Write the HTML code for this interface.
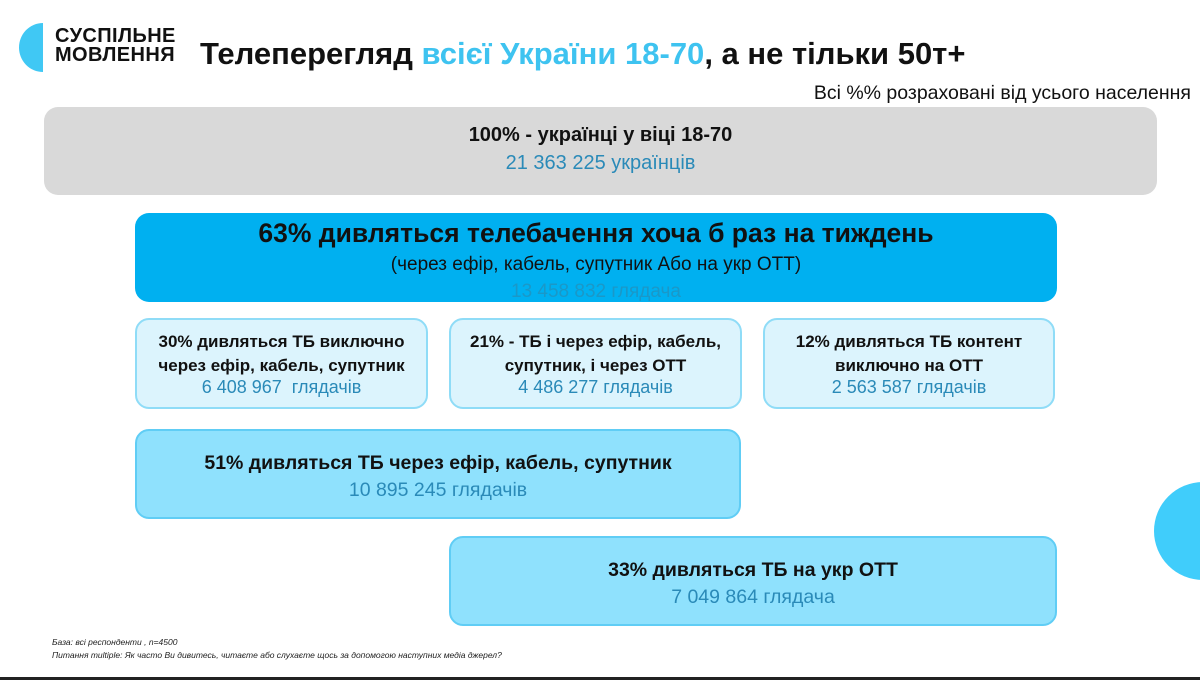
<!DOCTYPE html>
<html><head><meta charset="utf-8"><style>
body{margin:0;width:1200px;height:680px;background:#fff;position:relative;overflow:hidden;font-family:"Liberation Sans","DejaVu Sans",sans-serif;}
.a{position:absolute}
.box{position:absolute;box-sizing:border-box;border-radius:14px;text-align:center}
.l{position:absolute;left:0;right:0;text-align:center;white-space:nowrap}
.b{font-weight:bold;color:#111}
.n{color:#2a8ab8}
</style></head><body>
<div class="a" style="left:19px;top:23px;width:48px;height:49px;border-radius:50%;background:#40c8f4;clip-path:inset(0 24px 0 0)"></div>
<div class="a" style="left:55px;top:27px;font-weight:bold;font-size:20px;line-height:19px;color:#111;letter-spacing:0.4px">СУСПІЛЬНЕ<br>МОВЛЕННЯ</div>
<div class="a" style="left:200px;top:36px;font-weight:bold;font-size:31px;color:#111;white-space:nowrap">Телеперегляд <span style="color:#3ec3f0">всієї України 18-70</span>, а не тільки 50т+</div>
<div class="a" style="right:9px;top:82px;font-size:19.5px;color:#111;white-space:nowrap">Всі %% розраховані від усього населення</div>

<div class="box" style="left:44px;top:107px;width:1113px;height:88px;background:#d9d9d9">
<div class="l b" style="top:17px;font-size:20px">100% - українці у віці 18-70</div>
<div class="l n" style="top:45px;font-size:20px">21 363 225 українців</div></div>

<div class="box" style="left:135px;top:213px;width:922px;height:89px;background:#00b0f0">
<div class="l b" style="top:5px;font-size:26.5px">63% дивляться телебачення хоча б раз на тиждень</div>
<div class="l" style="top:41px;font-size:19px;color:#111">(через ефір, кабель, супутник Або на укр ОТТ)</div>
<div class="l" style="top:68px;font-size:19px;color:#1a98c8">13 458 832 глядача</div></div>

<div class="box" style="left:135px;top:318px;width:293px;height:91px;background:#dcf4fd;border:2px solid #8fdcf7">
<div class="l b" style="top:10px;font-size:17px;line-height:24px">30% дивляться ТБ виключно<br>через ефір, кабель, супутник</div>
<div class="l n" style="top:57px;font-size:18px">6 408 967&nbsp; глядачів</div></div>
<div class="box" style="left:449px;top:318px;width:293px;height:91px;background:#dcf4fd;border:2px solid #8fdcf7">
<div class="l b" style="top:10px;font-size:17px;line-height:24px">21% - ТБ і через ефір, кабель,<br>супутник, і через ОТТ</div>
<div class="l n" style="top:57px;font-size:18px">4 486 277 глядачів</div></div>
<div class="box" style="left:763px;top:318px;width:292px;height:91px;background:#dcf4fd;border:2px solid #8fdcf7">
<div class="l b" style="top:10px;font-size:17px;line-height:24px">12% дивляться ТБ контент<br>виключно на ОТТ</div>
<div class="l n" style="top:57px;font-size:18px">2 563 587 глядачів</div></div>

<div class="box" style="left:135px;top:429px;width:606px;height:90px;background:#8fe1fd;border:2px solid #60cdf5">
<div class="l b" style="top:21px;font-size:19.5px">51% дивляться ТБ через ефір, кабель, супутник</div>
<div class="l n" style="top:48px;font-size:19.5px">10 895 245 глядачів</div></div>
<div class="box" style="left:449px;top:536px;width:608px;height:90px;background:#8fe1fd;border:2px solid #60cdf5">
<div class="l b" style="top:21px;font-size:19.5px">33% дивляться ТБ на укр ОТТ</div>
<div class="l n" style="top:48px;font-size:19.5px">7 049 864 глядача</div></div>

<div class="a" style="left:1154px;top:482px;width:98px;height:98px;border-radius:50%;background:#40cdfb"></div>
<div class="a" style="left:52px;top:636px;font-size:8.5px;font-style:italic;color:#222;line-height:13px;white-space:nowrap">База: всі респонденти , n=4500<br>Питання multiple: Як часто Ви дивитесь, читаєте або слухаєте щось за допомогою наступних медіа джерел?</div>
<div class="a" style="left:0;top:677px;width:1200px;height:3px;background:#222"></div>
</body></html>
